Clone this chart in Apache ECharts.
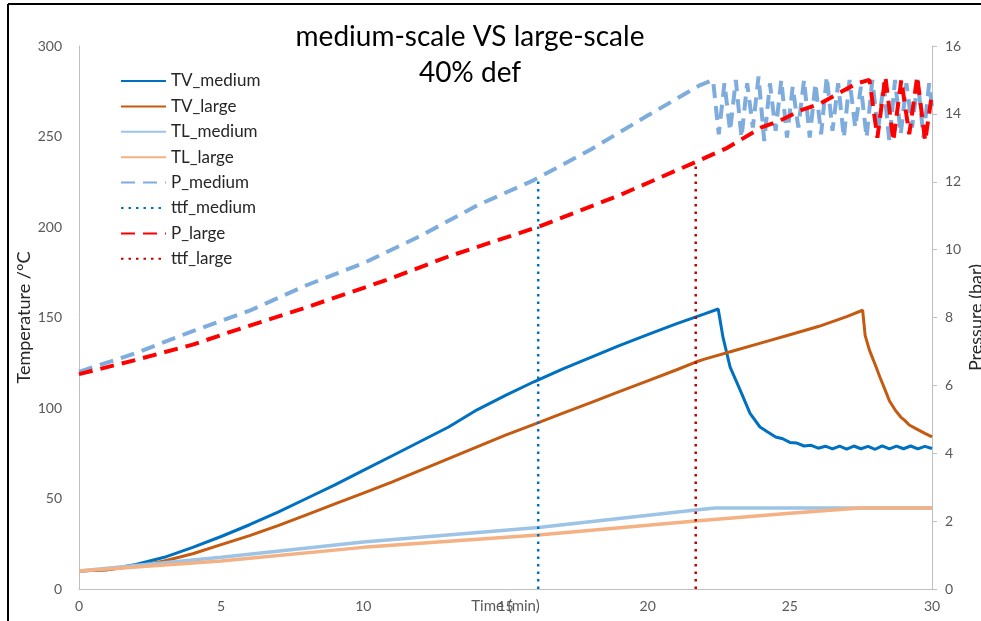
<!DOCTYPE html>
<html>
<head>
<meta charset="utf-8">
<script src="https://cdn.jsdelivr.net/npm/echarts@6/dist/echarts.min.js"></script>
<style>
  html, body { margin: 0; padding: 0; background: #fff; }
  #chart { width: 981px; height: 621px; }
</style>
</head>
<body>
<div id="chart"></div>
<script>
// Vapour / liquid temperatures (°C, left axis) against time (min)
const tvMedium = [
  [0, 10], [1, 10.7], [2, 13.5], [3, 17.5], [4, 23], [5, 29], [6, 35.5], [7, 42.5],
  [8, 50], [9, 57.5], [10, 65.5], [11, 73.5], [12, 81.5], [13, 89.5], [14, 99],
  [15, 107], [16, 114.5], [17, 121.5], [18, 128], [19, 134.5], [20, 140.5],
  [21, 146.5], [22, 152], [22.48, 154.7], [22.65, 139], [22.9, 122.6], [23.25, 110],
  [23.6, 97], [23.95, 89.5], [24.25, 86.5], [24.5, 84], [24.75, 83], [25, 81],
  [25.25, 80.6], [25.5, 79], [25.75, 79.4], [26, 77.8], [26.25, 78.9], [26.5, 77.4],
  [26.75, 78.9], [27, 77.3], [27.25, 79], [27.5, 77.5], [27.75, 78.8], [28, 77.2],
  [28.25, 79.1], [28.5, 77.4], [28.75, 78.9], [29, 77.5], [29.25, 79], [29.5, 77.4],
  [29.75, 78.8], [30, 77.6]
];
const tvLarge = [
  [0, 10], [1, 10.6], [2, 12.5], [3, 15.5], [4, 19.5], [5, 24.5], [6, 29.5], [7, 35],
  [8, 41], [9, 47], [10, 53], [11, 59], [12, 65.5], [13, 72], [14, 78.5], [15, 85],
  [16, 91], [17, 97], [18, 103], [19, 109], [20, 115], [21, 121], [21.69, 125.4],
  [22, 127], [23, 131.5], [24, 136], [25, 140.5], [26, 145], [27, 150.5], [27.56, 154],
  [27.65, 140], [27.8, 132], [28, 124], [28.17, 117], [28.35, 110], [28.5, 104],
  [28.7, 99], [28.9, 95], [29.05, 93], [29.2, 90.6], [29.45, 88.5], [29.75, 86], [30, 84]
];
const tlMedium = [
  [0, 10], [5, 17.5], [10, 26], [16.15, 34], [21.69, 43.6], [22.37, 44.8], [30, 44.8]
];
const tlLarge = [
  [0, 10], [5, 15.5], [10, 23], [16.15, 29.8], [21.69, 37.6], [25, 41.8], [27.47, 44.8], [30, 44.8]
];

// Pressures (bar, right axis)
const pMedium = [
  [0, 6.4], [2, 6.95], [4, 7.6], [6, 8.2], [8, 8.95], [10, 9.6], [12, 10.4], [14, 11.3],
  [16, 12.05], [18, 12.95], [20, 13.95], [21.85, 14.85], [22.3, 15.0],
  [22.5, 13.4], [22.7, 14.9], [22.9, 13.5], [23.1, 15.0], [23.3, 13.3], [23.5, 14.9],
  [23.7, 13.6], [23.9, 15.1], [24.1, 13.2], [24.3, 14.9], [24.5, 13.5], [24.7, 15.0],
  [24.9, 13.3], [25.1, 14.8], [25.3, 13.6], [25.5, 15.0], [25.7, 13.3], [25.9, 14.9],
  [26.1, 13.4], [26.3, 15.1], [26.5, 13.5], [26.7, 14.9], [26.9, 13.3], [27.1, 15.0],
  [27.3, 13.6], [27.5, 14.8], [27.7, 13.3], [27.9, 15.0], [28.1, 13.5], [28.3, 14.9],
  [28.5, 13.2], [28.7, 15.0], [28.9, 13.4], [29.1, 14.9], [29.3, 13.6], [29.5, 15.0],
  [29.7, 13.3], [29.9, 14.9], [30, 14.2]
];
const pLarge = [
  [0, 6.33], [2, 6.75], [4, 7.2], [5.2, 7.54], [8, 8.3], [10.8, 9.1], [13, 9.8],
  [16.15, 10.67], [19, 11.6], [21.69, 12.58], [22.8, 13.0], [23.4, 13.3], [24.0, 13.6],
  [24.66, 13.8], [25.36, 14.1], [26.06, 14.3], [26.7, 14.6], [27.36, 14.9], [27.8, 15.0],
  [28.08, 13.3], [28.36, 15.1], [28.64, 13.2], [28.92, 15.0], [29.2, 13.4],
  [29.48, 15.1], [29.76, 13.2], [30, 14.6]
];

// Time-to-failure markers
const ttfMedium = [[16.15, 0], [16.15, 12.1]];
const ttfLarge = [[21.69, 0], [21.69, 12.6]];

const seriesNames = ['TV_medium', 'TV_large', 'TL_medium', 'TL_large', 'P_medium', 'ttf_medium', 'P_large', 'ttf_large'];
const xTicks = { min: 0, max: 30, interval: 5 };
const tempTicks = { min: 0, max: 300, interval: 50 };
const presTicks = { min: 0, max: 16, interval: 2 };

const FONT = 'Lato';
const labelStyle = { color: '#595959', fontSize: 14, fontFamily: FONT };

function line(name, data, color, width, type, yAxisIndex) {
  return {
    name, type: 'line', data, yAxisIndex,
    symbol: 'none', smooth: false, animation: false,
    lineStyle: { color, width, type },
    itemStyle: { color }
  };
}

const chart = echarts.init(document.getElementById('chart'));
chart.setOption({
  backgroundColor: '#fff',
  animation: false,
  title: {
    text: 'medium-scale VS large-scale\n40% def',
    left: 465, top: 14, textAlign: 'center',
    textStyle: { fontFamily: FONT, fontSize: 28, fontWeight: 'normal', color: '#000', lineHeight: 36 }
  },
  grid: { left: 79, right: 49, top: 46, bottom: 32, containLabel: false, outerBoundsMode: 'none' },
  legend: {
    data: seriesNames,
    orient: 'vertical', left: 120, top: 72.5, padding: 0,
    itemWidth: 45, itemHeight: 14, itemGap: 8.4,
    itemStyle: { opacity: 0 },
    textStyle: { fontFamily: FONT, fontSize: 17, color: '#262626' }
  },
  xAxis: {
    type: 'value', ...xTicks,
    name: 'Time (min)', nameLocation: 'middle', nameGap: 10, nameMoveOverlap: false,
    nameTextStyle: { ...labelStyle, fontSize: 15 },
    axisLine: { lineStyle: { color: '#BFBFBF', width: 1 } },
    axisTick: { show: false },
    splitLine: { show: false },
    axisLabel: { ...labelStyle, margin: 10 }
  },
  yAxis: [
    {
      type: 'value', ...tempTicks,
      name: 'Temperature /°C', nameLocation: 'middle', nameGap: 46, nameRotate: 90, nameMoveOverlap: false,
      nameTextStyle: { ...labelStyle, fontSize: 18, color: '#262626' },
      axisLine: { show: true, lineStyle: { color: '#BFBFBF', width: 1 } },
      axisTick: { show: false },
      splitLine: { show: false },
      axisLabel: { ...labelStyle, margin: 17 }
    },
    {
      type: 'value', ...presTicks, position: 'right',
      name: 'Pressure (bar)', nameLocation: 'middle', nameGap: 35, nameRotate: 90, nameMoveOverlap: false,
      nameTextStyle: { ...labelStyle, fontSize: 18, color: '#262626' },
      axisLine: { show: true, lineStyle: { color: '#BFBFBF', width: 1 } },
      axisTick: { show: true, length: 5, lineStyle: { color: '#BFBFBF' } },
      splitLine: { show: false },
      axisLabel: { ...labelStyle, margin: 13 }
    }
  ],
  series: [
    line('TV_medium', tvMedium, '#0070C0', 3, 'solid', 0),
    line('TV_large', tvLarge, '#C55A11', 3, 'solid', 0),
    line('TL_medium', tlMedium, '#9DC3E6', 3.5, 'solid', 0),
    line('TL_large', tlLarge, '#F4B183', 3.5, 'solid', 0),
    line('P_medium', pMedium, '#7EACDD', 4, [14, 8], 1),
    line('ttf_medium', ttfMedium, '#0070C0', 2.5, [2.5, 5], 1),
    line('P_large', pLarge, '#FF0000', 4, [14, 8], 1),
    line('ttf_large', ttfLarge, '#C00000', 2.5, [2.5, 5], 1)
  ],
  graphic: [
    { type: 'line', shape: { x1: 8, y1: 4, x2: 981, y2: 4 }, style: { stroke: '#000', lineWidth: 2 } },
    { type: 'line', shape: { x1: 8, y1: 4, x2: 8, y2: 621 }, style: { stroke: '#000', lineWidth: 2 } }
  ]
});
</script>
</body>
</html>
